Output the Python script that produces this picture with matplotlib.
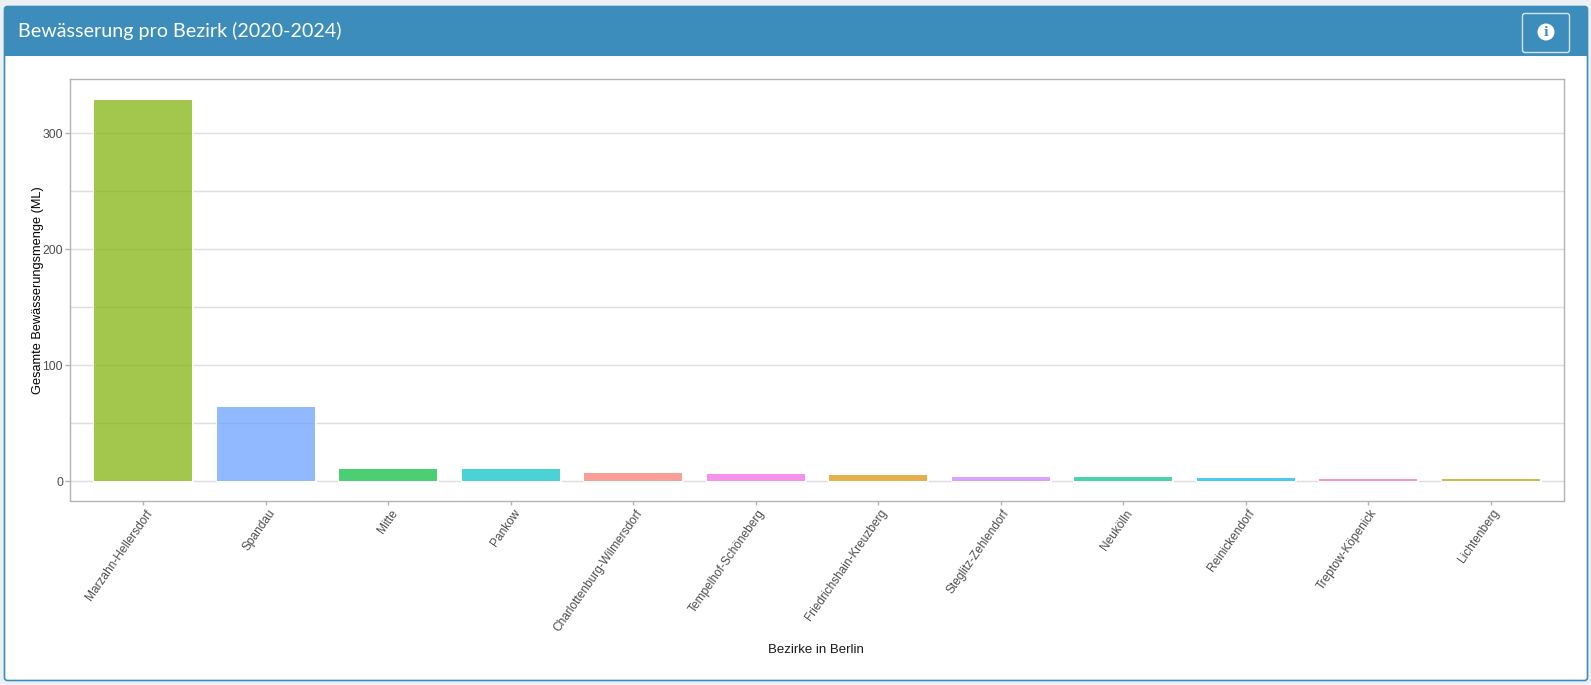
import matplotlib
matplotlib.use('Agg')
import matplotlib.pyplot as plt
from matplotlib.colors import to_rgba
from matplotlib.patches import Circle, FancyBboxPatch, Rectangle
from matplotlib.transforms import ScaledTranslation

W = 1591
H = 685

# Data
bezirke = ['Marzahn-Hellersdorf', 'Spandau', 'Mitte', 'Pankow',
           'Charlottenburg-Wilmersdorf', 'Tempelhof-Schöneberg',
           'Friedrichshain-Kreuzberg', 'Steglitz-Zehlendorf', 'Neukölln',
           'Reinickendorf', 'Treptow-Köpenick', 'Lichtenberg']
menge = [328.8, 64.5, 10.8, 10.8, 7.4, 6.4, 5.5, 3.8, 3.8, 3.0, 2.1, 2.0]
farben = ['#7CAE00', '#619CFF', '#00BA38', '#00BFC4', '#F8766D', '#F564E3',
          '#DE8C00', '#C77CFF', '#00C08B', '#00B4F0', '#FF64B0', '#B79F00']
major_ticks = [0, 100, 200, 300]
grid_lines = [0, 50, 100, 150, 200, 250, 300]


def fx(px):
    return px / W


def fy(px):
    return 1 - px / H


fig = plt.figure(figsize=(W / 100, H / 100), dpi=100, facecolor='#ecf0f5')

# Card and header, in pixel coordinates of the screenshot
bg = fig.add_axes([0, 0, 1, 1], zorder=0)
bg.set_xlim(0, W)
bg.set_ylim(H, 0)
bg.axis('off')
bg.add_patch(FancyBboxPatch((4.5, 6.5), 1583, 674, boxstyle='round,pad=0,rounding_size=3',
                            fc='white', ec='#3c8dbc', lw=1.2))
bg.add_patch(FancyBboxPatch((4, 6), 1584, 20, boxstyle='round,pad=0,rounding_size=3',
                            fc='#3c8dbc', ec='none'))
bg.add_patch(Rectangle((4, 14), 1584, 41.5, fc='#3c8dbc', ec='none'))
bg.text(18, 30.5, 'Bewässerung pro Bezirk (2020-2024)', color='white', fontsize=14.25,
        family='Lato', va='center', ha='left')
bg.add_patch(FancyBboxPatch((1522.5, 13.5), 47, 39, boxstyle='round,pad=0,rounding_size=2.5',
                            fc='none', ec='#d5e3ee', lw=1))
bg.add_patch(Circle((1546, 32), 8.5, fc='white', ec='none'))
bg.text(1546, 32, 'i', color='#3c8dbc', fontsize=9, fontweight='bold', family='DejaVu Serif',
        ha='center', va='center')

# Plot panel
ax = fig.add_axes([fx(70), fy(500.5), fx(1564 - 70), (500.5 - 79) / H], zorder=1)
ax.set_facecolor('white')

positions = list(range(1, len(bezirke) + 1))
for y in grid_lines:
    ax.axhline(y, color='#dedede', linewidth=1, zorder=1)
# white outline below the bars, it cuts the gridline next to each bar
ax.bar(positions, menge, width=0.8, fill=False, edgecolor='white', linewidth=2, zorder=1.5)
ax.bar(positions, menge, width=0.8, color=[to_rgba(c, 0.7) for c in farben],
       linewidth=0, zorder=2)

ax.set_xlim(0.4, 12.6)
ax.set_ylim(-16.5, 346.8)
ax.set_yticks(major_ticks)
ax.set_xticks(positions)
ax.set_xticklabels(bezirke, rotation=55, ha='right', va='top', rotation_mode='anchor',
                   family='Liberation Sans', fontsize=8.6, color='#4d4d4d')
ax.tick_params(axis='y', labelsize=8.7, labelcolor='#4d4d4d', color='#b3b3b3',
               length=3.5, width=1, pad=1.5)
ax.tick_params(axis='x', color='#b3b3b3', length=3, width=1, pad=2)
shift = ScaledTranslation(1.2 / 72, 0, fig.dpi_scale_trans)
for label in ax.get_xticklabels():
    label.set_transform(label.get_transform() + shift)
for label in ax.get_yticklabels():
    label.set_family('Liberation Sans')
for spine in ax.spines.values():
    spine.set_color('#b3b3b3')
    spine.set_linewidth(1)

fig.text(fx(38), fy(290), 'Gesamte Bewässerungsmenge (ML)', rotation=90, ha='center', va='center',
         family='Liberation Sans', fontsize=9.2, color='black')
fig.text(fx(816), fy(650), 'Bezirke in Berlin', ha='center', va='center',
         family='Liberation Sans', fontsize=9.5, color='#1a1a1a')

fig.savefig('out.png', dpi=100, facecolor=fig.get_facecolor())
